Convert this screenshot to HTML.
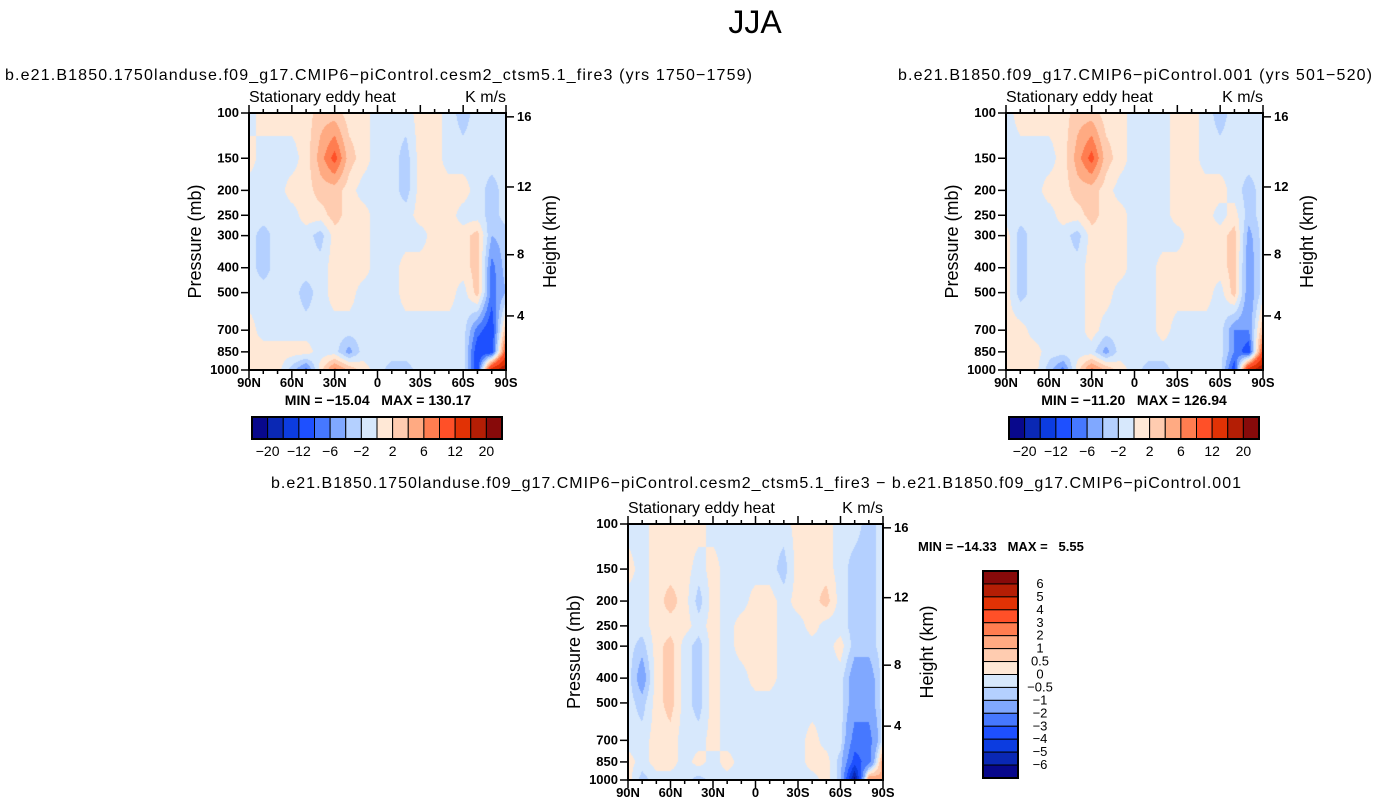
<!DOCTYPE html>
<html><head><meta charset="utf-8"><style>
body{margin:0;background:#fff;width:1376px;height:808px;overflow:hidden;position:relative;font-family:"Liberation Sans",sans-serif}
canvas{position:absolute}
svg{position:absolute;left:0;top:0}
text{white-space:pre}
</style></head><body>
<canvas id="c1"></canvas>
<canvas id="c2"></canvas>
<canvas id="c3"></canvas>
<svg id="s" width="1376" height="808"></svg>
<script>
const lats=[90,80,70,60,50,40,30,20,10,0,-10,-20,-30,-40,-50,-60,-70,-80,-90];
const levels=[100,150,200,250,300,400,500,700,850,1000];
const pTicks=[100,150,200,250,300,400,500,700,850,1000];
const zTicks=[16,12,8,4];
const zTickP=[103.5,194,356,616];
const latTicks=[90,60,30,0,-30,-60,-90];
const latLabels=["90N","60N","30N","0","30S","60S","90S"];
const palette=["#08088c","#0a28b4","#0c3ce0","#1e50ff","#4678ff","#80a8ff","#b4d0ff","#d7e8fc","#ffe8d6","#ffccb0","#ffaa82","#ff7d50","#ff5028","#e13205","#b41e05","#870a0a"];
const bounds1=[-20,-16,-12,-8,-6,-4,-2,0,2,4,6,8,12,16,20];
const cbLabels1=["-20","-12","-6","-2","2","6","12","20"];
const bounds3=[-6,-5,-4,-3,-2,-1,-0.5,0,0.5,1,2,3,4,5,6];
const cbLabels3=["6","5","4","3","2","1","0.5","0","-0.5","-1","-2","-3","-4","-5","-6"];
const field1=[
[-1,1,1,1,1,3,3,1,1,-1,-1,-1,1,1,-1,-3,-1,-1,-1],
[1,-1,-1,-1,1,5,9,3,1,-1,-1,-3,1,1,-1,-1,-1,-1,-1],
[-1,-1,-1,1,1,3,3,1,-1,-1,-1,-3,1,1,1,1,-1,-3,-1],
[-1,-1,-1,-1,1,1,3,1,1,-1,-1,-1,1,1,1,-1,-1,-3,-1],
[-1,-3,-1,-1,-1,-3,1,1,1,-1,-1,-1,-1,1,1,1,3,-4,-3],
[-1,-3,-1,-1,-1,-1,1,1,1,-1,-1,1,1,1,1,1,3,-7,-3],
[-1,-1,-1,-1,-3,-1,1,1,-1,-1,-1,1,1,1,1,-1,3,-7,-4],
[1,-1,-1,-1,-1,-1,-1,-1,-1,-1,-1,-1,-1,-1,-1,-1,-7,-10,4],
[1,1,1,1,1,-1,-1,-5,-1,-1,-1,-1,-1,-1,-1,-1,-10,-10,10],
[1,1,1,-3,-7,1,7,4,1,-1,-3,-3,-1,-1,-1,-1,-10,15,20]];
const field2=[
[-1,1,1,1,1,3,3,1,1,-1,-1,-1,1,1,-1,-3,-1,-1,-1],
[-1,-1,-1,-1,1,5,9,3,1,-1,-1,-1,1,1,-1,-1,-1,-1,-1],
[-1,-1,-1,1,1,3,3,1,-1,-1,-1,-1,1,1,1,1,-1,-3,-1],
[-1,-1,-1,-1,1,1,3,1,1,-1,-1,-1,1,1,1,-1,1,-3,-1],
[1,-3,-1,-1,-1,-3,1,1,1,-1,-1,-1,-1,1,1,1,3,-5,-1],
[1,-3,-1,-1,-1,-1,1,1,1,-1,-1,1,1,1,1,1,3,-6,-1],
[1,-3,-1,-1,-1,-1,1,1,-1,-1,-1,1,1,1,1,-1,3,-6,-1],
[1,1,-1,-1,-1,-1,1,-1,-1,-1,-1,1,-1,-1,-1,-1,-6,-6,4],
[1,1,1,-1,-1,-1,-1,-5,-1,-1,-1,-1,-1,-1,-1,-1,-6,-10,10],
[1,1,1,-3,-7,1,7,4,1,-1,-3,-3,-1,-1,-1,-1,-10,15,20]];
const field3=[
[-0.25,-0.25,0.25,0.25,0.25,0.25,-0.25,-0.25,-0.25,-0.25,-0.25,-0.25,0.25,0.25,0.25,-0.25,-0.25,-0.75,-0.25],
[0.25,-0.25,0.25,0.25,0.25,-0.25,0.25,-0.25,-0.25,-0.25,-0.25,-0.75,0.25,0.25,0.25,-0.25,-0.75,-0.75,-0.25],
[-0.25,-0.25,0.25,0.75,0.25,-0.75,0.25,-0.25,-0.25,0.25,0.25,-0.25,0.25,0.25,0.75,-0.25,-0.75,-0.75,-0.25],
[-0.25,-0.25,0.25,0.25,0.25,-0.25,0.25,-0.25,0.25,0.25,0.25,-0.25,-0.25,0.25,-0.25,-0.25,-0.75,-0.75,-0.25],
[-0.25,-0.75,0.25,0.75,-0.25,-0.75,0.25,-0.25,0.25,0.25,0.25,-0.25,-0.25,-0.25,-0.25,0.25,-0.75,-0.75,-0.25],
[-0.25,-1.5,0.25,0.75,-0.25,-0.75,0.25,-0.25,-0.25,0.25,0.25,-0.25,-0.25,-0.25,-0.25,-0.25,-1.5,-1.5,-0.25],
[-0.25,-0.75,0.25,0.75,-0.25,-0.75,0.25,-0.25,-0.25,-0.25,-0.25,-0.25,-0.25,-0.25,-0.25,-0.25,-1.5,-1.5,-0.25],
[-0.25,-0.25,0.25,0.25,-0.25,-0.25,0.25,-0.25,-0.25,-0.25,-0.25,-0.25,-0.25,0.25,-0.25,-0.25,-2.5,-2.5,-0.25],
[0.25,-0.25,0.25,0.25,-0.25,0.25,-0.25,0.25,-0.25,-0.25,-0.25,-0.25,-0.25,0.25,0.25,-0.75,-3.5,-2.5,1.5],
[0.25,-0.75,-0.25,-0.25,-0.25,-0.75,-0.25,-0.25,-0.25,-0.25,-0.25,-0.25,-0.25,-0.25,0.25,-0.75,-6.5,2,1]];

const NS="http://www.w3.org/2000/svg";
const svg=document.getElementById('s');
function mk(tag,attrs,name,parent){const e=document.createElementNS(NS,tag);for(const k in attrs)e.setAttribute(k,attrs[k]);


(parent||svg).appendChild(e);return e;}
function txt(x,y,s,size,anchor,name,extra){const t=mk('text',Object.assign({x:x,y:y,'font-size':size,'text-anchor':anchor||'start','font-family':'Liberation Sans, sans-serif',fill:'#000'},extra||{}),name);t.textContent=s;return t;}

function drawPanel(id,x0,y0,w,h,field,bounds){
  const xs=lat=>x0+(90-lat)/180*w;
  const ys=p=>y0+(Math.log10(p)-2)*h;
  const c=document.getElementById(id);c.width=w;c.height=h;c.style.left=x0+'px';c.style.top=y0+'px';
  const ctx=c.getContext('2d');const img=ctx.createImageData(w,h);
  const rgb=palette.map(s=>[parseInt(s.slice(1,3),16),parseInt(s.slice(3,5),16),parseInt(s.slice(5,7),16)]);
  const lp=levels.map(p=>Math.log10(p));
  for(let j=0;j<h;j++){
    const L=2+(j+0.5)/h;let r=0;while(r<levels.length-2&&lp[r+1]<L)r++;
    const fr=Math.min(1,Math.max(0,(L-lp[r])/(lp[r+1]-lp[r])));
    for(let i=0;i<w;i++){
      const fx=(i+0.5)/w*(lats.length-1);let ci=Math.min(lats.length-2,Math.floor(fx));const fc=fx-ci;
      const v=(field[r][ci]*(1-fc)+field[r][ci+1]*fc)*(1-fr)+(field[r+1][ci]*(1-fc)+field[r+1][ci+1]*fc)*fr;
      let k=0;while(k<bounds.length&&v>=bounds[k])k++;
      const o=(j*w+i)*4;const col=rgb[k];img.data[o]=col[0];img.data[o+1]=col[1];img.data[o+2]=col[2];img.data[o+3]=255;
    }
  }
  ctx.putImageData(img,0,0);
  mk('rect',{x:x0,y:y0,width:w,height:h,fill:'none',stroke:'#000','stroke-width':2},'plot-frame');
  for(let lat=90;lat>=-90;lat-=10){const x=xs(lat);const L=(lat%30===0)?8:4;
    mk('line',{x1:x,y1:y0,x2:x,y2:y0-L,stroke:'#000','stroke-width':1.5},'top-tick');
    mk('line',{x1:x,y1:y0+h,x2:x,y2:y0+h+L,stroke:'#000','stroke-width':1.5},'bottom-tick');}
  latTicks.forEach((lat,i)=>txt(xs(lat),y0+h+17,latLabels[i],13,'middle','x-tick-label',{'font-weight':'bold'}));
  pTicks.forEach(p=>{const y=ys(p);mk('line',{x1:x0,y1:y,x2:x0-8,y2:y,stroke:'#000','stroke-width':1.5},'y-tick');
    txt(x0-10,y+4,String(p),13,'end','y-tick-label',{'font-weight':'bold'});});
  zTicks.forEach((z,i)=>{const y=ys(zTickP[i]);mk('line',{x1:x0+w,y1:y,x2:x0+w+8,y2:y,stroke:'#000','stroke-width':1.5},'height-tick');
    txt(x0+w+11,y+4,String(z),13,'start','height-tick-label',{'font-weight':'bold'});});
  txt(x0,y0-11,'Stationary eddy heat',16,'start','panel-left-title');
  txt(x0+w,y0-11,'K m/s',16,'end','panel-units');
  txt(x0-48,y0+h/2,'Pressure (mb)',18,'middle','y-axis-title',{transform:`rotate(-90 ${x0-48} ${y0+h/2})`});
  txt(x0+w+50,y0+h/2,'Height (km)',18,'middle','height-axis-title',{transform:`rotate(-90 ${x0+w+50} ${y0+h/2})`});
}
function hbar(x0,y0,w,h){const bw=w/16;palette.forEach((c,i)=>mk('rect',{x:x0+i*bw,y:y0,width:bw,height:h,fill:c,stroke:'#000','stroke-width':1},'colorbar-box'));
  mk('rect',{x:x0,y:y0,width:w,height:h,fill:'none',stroke:'#000','stroke-width':2},'colorbar-frame');
  cbLabels1.forEach((s,i)=>txt(x0+(1+2*i)*bw,y0+h+17,s.replace('-','\u2212'),14,'middle','colorbar-label'));}
function vbar(x0,y0,w,h){const bh=h/16;palette.slice().reverse().forEach((c,i)=>mk('rect',{x:x0,y:y0+i*bh,width:w,height:bh,fill:c,stroke:'#000','stroke-width':1},'colorbar-box'));
  mk('rect',{x:x0,y:y0,width:w,height:h,fill:'none',stroke:'#000','stroke-width':2},'colorbar-frame');
  cbLabels3.forEach((s,i)=>txt(x0+w+22,y0+(i+1)*bh+4,s.replace('-','\u2212'),13,'middle','colorbar-label'));}

txt(755,33,'JJA',32,'middle','figure-title',{'font-weight':'normal'});
txt(5,80,'b.e21.B1850.1750landuse.f09_g17.CMIP6\u2212piControl.cesm2_ctsm5.1_fire3 (yrs 1750\u22121759)',16,'start','left-panel-title',{textLength:747});
txt(898,80,'b.e21.B1850.f09_g17.CMIP6\u2212piControl.001 (yrs 501\u2212520)',16,'start','right-panel-title',{textLength:474});
txt(271,488,'b.e21.B1850.1750landuse.f09_g17.CMIP6\u2212piControl.cesm2_ctsm5.1_fire3 \u2212 b.e21.B1850.f09_g17.CMIP6\u2212piControl.001',16,'start','diff-panel-title',{textLength:970});
drawPanel('c1',249,113,257,257,field1,bounds1);
drawPanel('c2',1006,113,257,257,field2,bounds1);
drawPanel('c3',628,524,255,256,field3,bounds3);
txt(378,405,'MIN = \u221215.04   MAX = 130.17',14,'middle','min-max-1',{'font-weight':'bold'});
txt(1134,405,'MIN = \u221211.20   MAX = 126.94',14,'middle','min-max-2',{'font-weight':'bold'});
txt(918,551,'MIN = \u221214.33   MAX =   5.55',13,'start','min-max-diff',{'font-weight':'bold'});
hbar(252,417,250,22);
hbar(1009,417,250,22);
vbar(983,571,35,207);
</script>
</body></html>
